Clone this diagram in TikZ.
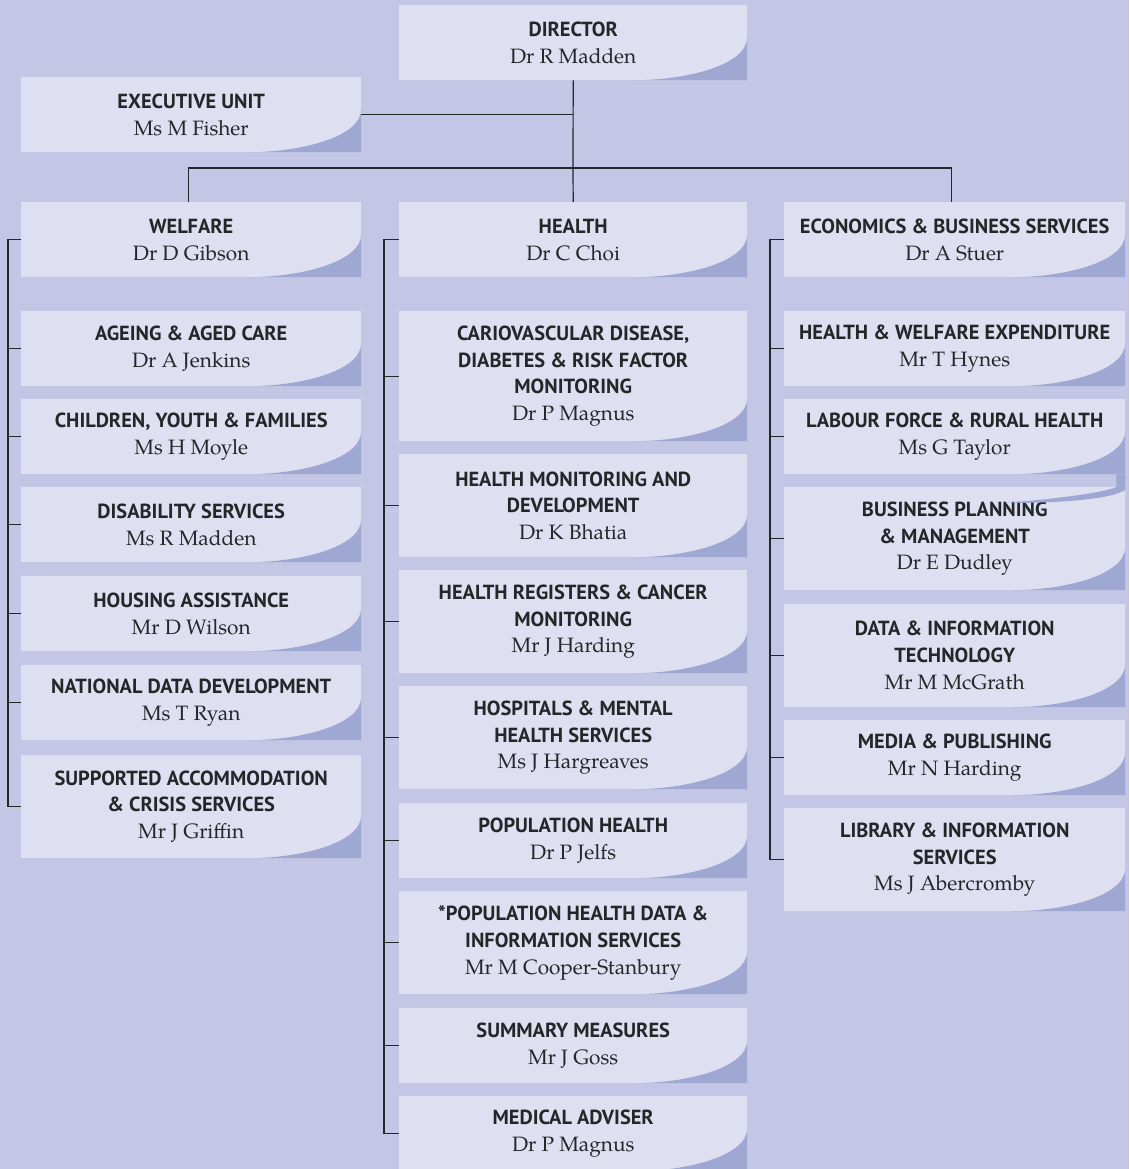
\documentclass[tikz,border=0pt]{standalone}
\usepackage{fontspec}
\newfontfamily\headfont{PT Sans}
\newfontfamily\namefont{TeX Gyre Pagella}
\definecolor{bg}{HTML}{C3C6E4}
\definecolor{boxfill}{HTML}{DEDFF1}
\definecolor{curlc}{HTML}{9FA8D3}
\definecolor{ink}{HTML}{232728}
\newcommand{\hd}[1]{{\headfont\bfseries\fontsize{20.4pt}{26.8pt}\selectfont #1}}
\newcommand{\nm}[1]{{\namefont\fontsize{20.8pt}{26.8pt}\selectfont #1}}
\tikzset{
  orgbox/.style={rectangle, fill=boxfill, inner sep=0pt, anchor=north west,
    align=center, text=ink, font=\fontsize{20pt}{26.8pt}\selectfont,
    path picture={\fill[curlc]
      ([yshift=43pt]path picture bounding box.south east)
      .. controls ([yshift=15pt]path picture bounding box.south east)
      and ([xshift=-61pt]path picture bounding box.south east)
      .. ([xshift=-113pt]path picture bounding box.south east)
      -- (path picture bounding box.south east) -- cycle;}},
  lbox/.style={orgbox, minimum width=340pt},
  mbox/.style={orgbox, minimum width=348pt},
  rbox/.style={orgbox, minimum width=341pt},
  one/.style={minimum height=75pt},
  two/.style={minimum height=103pt},
  three/.style={minimum height=130pt},
  conn/.style={draw=ink, line width=1.2pt},
}
\begin{document}
\begin{tikzpicture}[x=1pt, y=-1pt]
\path[use as bounding box, fill=bg] (0,0) rectangle (1129,1169);
\clip (0,0) rectangle (1129,1169);

% top
\node[mbox, one] (director) at (399,5) {\hd{DIRECTOR}\\\nm{Dr R Madden}};
\node[lbox, one] (executive) at (21,77) {\hd{EXECUTIVE UNIT}\\\nm{Ms M Fisher}};

% left column
\node[lbox, one] (welfare) at (21,202) {\hd{WELFARE}\\\nm{Dr D Gibson}};
\node[lbox, one] (ageing) at (21,311) {\hd{AGEING \& AGED CARE}\\\nm{Dr A Jenkins}};
\node[lbox, one] (children) at (21,399) {\hd{CHILDREN, YOUTH \& FAMILIES}\\\nm{Ms H Moyle}};
\node[lbox, one] (disability) at (21,487) {\hd{DISABILITY SERVICES}\\\nm{Ms R Madden}};
\node[lbox, one] (housing) at (21,576) {\hd{HOUSING ASSISTANCE}\\\nm{Mr D Wilson}};
\node[lbox, one] (natdata) at (21,665) {\hd{NATIONAL DATA DEVELOPMENT}\\\nm{Ms T Ryan}};
\node[lbox, two] (supported) at (21,755) {\hd{SUPPORTED ACCOMMODATION}\\\hd{\& CRISIS SERVICES}\\\nm{Mr J Griffin}};

% middle column
\node[mbox, one] (health) at (399,202) {\hd{HEALTH}\\\nm{Dr C Choi}};
\node[mbox, three] (cardio) at (399,311) {\hd{CARIOVASCULAR DISEASE,}\\\hd{DIABETES \& RISK FACTOR}\\\hd{MONITORING}\\\nm{Dr P Magnus}};
\node[mbox, two] (hmd) at (399,454) {\hd{HEALTH MONITORING AND}\\\hd{DEVELOPMENT}\\\nm{Dr K Bhatia}};
\node[mbox, two] (hreg) at (399,570) {\hd{HEALTH REGISTERS \& CANCER}\\\hd{MONITORING}\\\nm{Mr J Harding}};
\node[mbox, two] (hosp) at (399,686) {\hd{HOSPITALS \& MENTAL}\\\hd{HEALTH SERVICES}\\\nm{Ms J Hargreaves}};
\node[mbox, one] (pophealth) at (399,803) {\hd{POPULATION HEALTH}\\\nm{Dr P Jelfs}};
\node[mbox, two] (phdis) at (399,891) {\hd{*POPULATION HEALTH DATA \&}\\\hd{INFORMATION SERVICES}\\\nm{Mr M Cooper-Stanbury}};
\node[mbox, one] (summary) at (399,1008) {\hd{SUMMARY MEASURES}\\\nm{Mr J Goss}};
\node[mbox, one] (medical) at (399,1096) {\hd{MEDICAL ADVISER}\\\nm{Dr P Magnus}};

% right column
\node[rbox, one] (econ) at (784,202) {\hd{ECONOMICS \& BUSINESS SERVICES}\\\nm{Dr A Stuer}};
\node[rbox, one] (hwe) at (784,311) {\hd{HEALTH \& WELFARE EXPENDITURE}\\\nm{Mr T Hynes}};
\node[rbox, one] (labour) at (784,399) {\hd{LABOUR FORCE \& RURAL HEALTH}\\\nm{Ms G Taylor}};
\node[rbox, two] (bpm) at (784,487) {\hd{BUSINESS PLANNING}\\\hd{\& MANAGEMENT}\\\nm{Dr E Dudley}};
\node[rbox, two] (dit) at (784,604) {\hd{DATA \& INFORMATION}\\\hd{TECHNOLOGY}\\\nm{Mr M McGrath}};
\node[rbox, one] (media) at (784,720) {\hd{MEDIA \& PUBLISHING}\\\nm{Mr N Harding}};
\node[rbox, two] (library) at (784,808) {\hd{LIBRARY \& INFORMATION}\\\hd{SERVICES}\\\nm{Ms J Abercromby}};

% curl tail between labour and business planning
\fill[curlc] ([xshift=-9pt]labour.south east) -- (labour.south east) -- ([yshift=-3pt]bpm.north east)
  .. controls ([xshift=-15pt,yshift=-12pt]bpm.north east) and ([xshift=-60pt,yshift=-16pt]bpm.north east)
  .. ([xshift=-120pt,yshift=-16pt]bpm.north east)
  .. controls ([xshift=-60pt,yshift=-11pt]bpm.north east) and ([xshift=-20pt,yshift=-5pt]bpm.north east)
  .. ([xshift=-9pt]bpm.north east) -- cycle;

% connectors at top
\coordinate (bus) at (573,168);
\draw[conn] (director.south) -- (bus);
\draw[conn] (executive.east) -- (executive.east -| director.south);
\draw[conn] ([xshift=-3pt]welfare.north) -- ([xshift=-3pt]welfare.north |- bus)
  -- ([xshift=-3pt]econ.north |- bus) -- ([xshift=-3pt]econ.north);
\draw[conn] (bus) -- (health.north);

% left spine
\draw[conn] (welfare.west) -- ++(-13,0) |- (supported.west);
\foreach \n in {ageing,children,disability,housing,natdata}
  \draw[conn] (\n.west) -- ++(-13,0);

% middle spine
\draw[conn] (health.west) -- ++(-15,0) |- (medical.west);
\foreach \n in {cardio,hmd,hreg,hosp,pophealth,phdis,summary}
  \draw[conn] (\n.west) -- ++(-15,0);

% right spine
\draw[conn] (econ.west) -- ++(-14,0) |- (library.west);
\foreach \n in {hwe,labour,bpm,dit,media}
  \draw[conn] (\n.west) -- ++(-14,0);
\end{tikzpicture}
\end{document}
